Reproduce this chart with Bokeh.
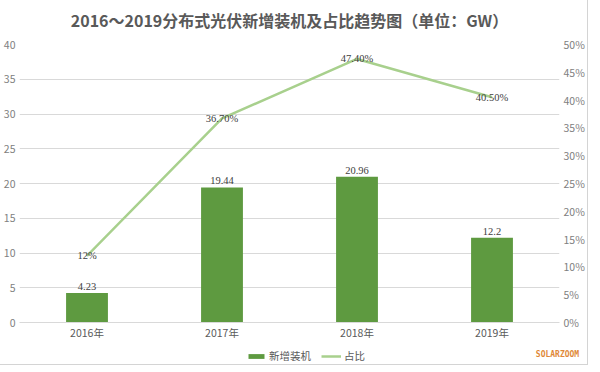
from bokeh.plotting import figure
from bokeh.layouts import column
from bokeh.models import (Range1d, LinearAxis, SingleIntervalTicker, PrintfTickFormatter,
                          ColumnDataSource, LabelSet, Legend, LegendItem, Label, FactorRange,
                          Title)
from bokeh.embed import file_html
from bokeh.resources import INLINE

# ---- data ----
years = ["2016年", "2017年", "2018年", "2019年"]
new_gw = [4.23, 19.44, 20.96, 12.2]
bar_labels = ["4.23", "19.44", "20.96", "12.2"]
share_pct = [12.0, 36.7, 47.4, 40.5]
share_labels = ["12%", "36.70%", "47.40%", "40.50%"]
title_text = "2016～2019分布式光伏新增装机及占比趋势图（单位：GW）"
series_names = ["新增装机", "占比"]
brand = "SOLARZOOM"

BAR_COLOR = "#5e9a40"
LINE_COLOR = "#a8d08d"
FONT = "Noto Sans CJK SC"

p = figure(frame_width=540, frame_height=278, x_range=FactorRange(*years, range_padding=0),
           y_range=Range1d(0, 40), output_backend="svg", toolbar_location=None,
           min_border_left=16, min_border_right=26, min_border_top=34, min_border_bottom=0)
p.outline_line_color = None
p.background_fill_color = "white"

p.title.text = title_text
p.title.align = "center"
p.title.offset = 12
p.title.text_font = FONT
p.title.text_font_size = "16px"
p.title.text_font_style = "bold"
p.title.text_color = "#595959"
p.title.standoff = 11
p.add_layout(Title(text=" ", text_font_size="4px", standoff=0), "above")

p.extra_y_ranges = {"pct": Range1d(0, 50)}

left_ticker = SingleIntervalTicker(interval=5)
yl = p.yaxis[0]
yl.ticker = left_ticker
yr = LinearAxis(y_range_name="pct", ticker=SingleIntervalTicker(interval=5),
                formatter=PrintfTickFormatter(format="%d%%"))
p.add_layout(yr, "right")

xa = p.xaxis[0]
for ax in (yl, yr, xa):
    ax.major_tick_line_color = None
    ax.minor_tick_line_color = None
    ax.major_tick_out = 0
    ax.major_tick_in = 0
    ax.minor_tick_out = 0
    ax.minor_tick_in = 0
    ax.major_label_text_font = FONT
    ax.major_label_text_font_size = "10.5px"

for ax in (yl, yr):
    ax.axis_line_color = None
    ax.major_label_text_color = "#808080"
    ax.major_label_standoff = 4

xa.axis_line_color = "#d9d9d9"
xa.major_label_text_color = "#595959"
xa.major_label_standoff = 2

p.xgrid.grid_line_color = None
p.ygrid.grid_line_color = "#d9d9d9"
p.ygrid[0].ticker = left_ticker

bar_src = ColumnDataSource(dict(x=years, top=new_gw, lbl=bar_labels))
line_src = ColumnDataSource(dict(x=years, y=share_pct, lbl=share_labels))

bar_r = p.vbar(x="x", top="top", width=0.31, source=bar_src,
               fill_color=BAR_COLOR, line_color=None)
line_r = p.line(x="x", y="y", source=line_src, y_range_name="pct",
                line_color=LINE_COLOR, line_width=2.5, line_join="round")

p.add_layout(LabelSet(x="x", y="top", text="lbl", source=bar_src, text_align="center",
                      text_baseline="bottom", y_offset=3, text_font=FONT,
                      text_font_size="10.5px", text_color="#404040"))
p.add_layout(LabelSet(x="x", y="y", text="lbl", source=line_src, y_range_name="pct",
                      text_align="center", text_baseline="middle", text_font=FONT,
                      text_font_size="10.5px", text_color="#404040"))

# ---- footer strip: legend + brand ----
foot = figure(frame_width=580, frame_height=22, x_range=Range1d(0, 580), y_range=Range1d(0, 22),
              output_backend="svg", toolbar_location=None, x_axis_location=None,
              y_axis_location=None, min_border=0)
foot.grid.grid_line_color = None
foot.outline_line_color = None
# hidden proxies so the legend can draw its swatches
fb = foot.vbar(x=[0], top=[0], width=0, fill_color=BAR_COLOR, line_color=None, visible=False)
fl = foot.line(x=[0], y=[0], line_color=LINE_COLOR, line_width=2.5, visible=False)

legend = Legend(items=[LegendItem(label=series_names[0], renderers=[fb]),
                       LegendItem(label=series_names[1], renderers=[fl])],
                orientation="horizontal", location=(246, 1),
                glyph_width=20, glyph_height=6, label_height=14,
                label_text_font=FONT, label_text_font_size="10.5px",
                label_text_color="#595959", border_line_color=None,
                background_fill_alpha=0, inactive_fill_alpha=0,
                spacing=10, padding=2, margin=0, label_standoff=3)
foot.add_layout(legend, "center")

foot.add_layout(Label(x=538, y=10, x_units="screen", y_units="screen", text=brand,
                      text_align="center", text_baseline="middle",
                      text_font="DejaVu Sans Mono", text_font_size="8px",
                      text_font_style="bold", text_color="#e0893a"))

layout = column(p, foot, spacing=0)
layout.styles = {"outline": "1px solid #d4d4d4"}

open("out.html", "w").write(file_html(layout, INLINE))
